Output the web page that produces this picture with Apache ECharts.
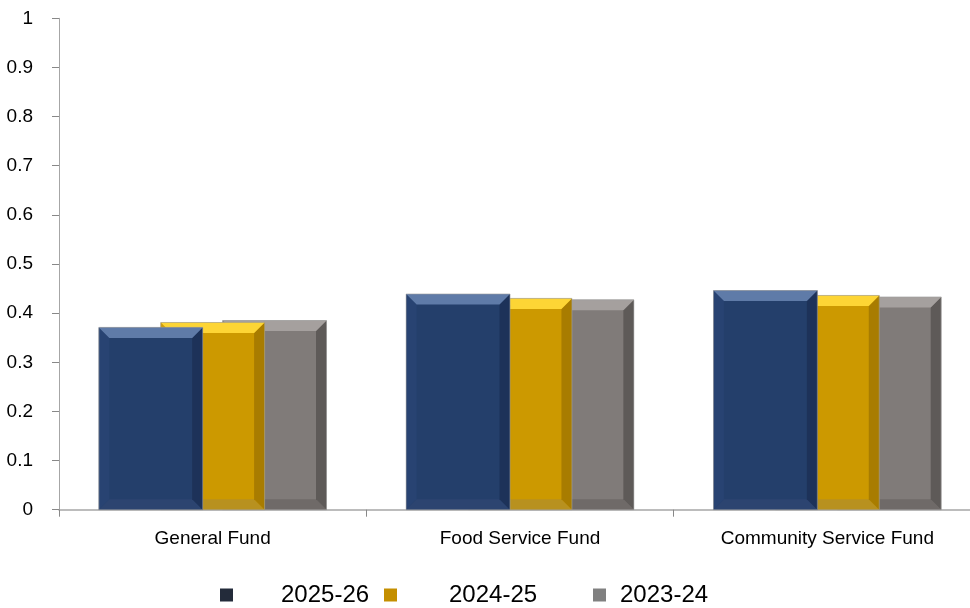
<!DOCTYPE html>
<html>
<head>
<meta charset="utf-8">
<script src="https://cdn.jsdelivr.net/npm/echarts@6/dist/echarts.min.js"></script>
<style>
html,body{margin:0;padding:0;background:#fff;}
#chart{width:970px;height:608px;}
</style>
</head>
<body>
<div id="chart"></div>
<script>
const categories = ['General Fund', 'Food Service Fund', 'Community Service Fund'];
const seriesNames = ['2025-26', '2024-25', '2023-24'];
const values2025 = [0.371, 0.439, 0.446];
const values2024 = [0.381, 0.430, 0.436];
const values2023 = [0.385, 0.427, 0.433];
const yTicks = [0, 0.1, 0.2, 0.3, 0.4, 0.5, 0.6, 0.7, 0.8, 0.9, 1];

const FONT = "'Liberation Sans Narrow', 'Arial Narrow', 'Liberation Sans', Arial, sans-serif";

const palettes = [
  {legend: '#232b3a', main: '#243f6b', top: '#5f7ba8', right: '#1d3259', bottom: '#2c4470', left: '#284372'},
  {legend: '#c48f00', main: '#cc9900', top: '#fdd535', right: '#a87c00', bottom: '#b8911f', left: '#d09d08'},
  {legend: '#808080', main: '#807b79', top: '#a5a09e', right: '#5e5a58', bottom: '#6f6a68', left: '#847f7d'}
];
const allValues = [values2025, values2024, values2023];

function makeRender(s) {
  const p = palettes[s];
  return function (params, api) {
    const cat = api.value(0);
    const val = api.value(1);
    const band = api.size([1, 0])[0];
    const w = band * 0.338;
    const step = w * 0.596;
    const groupW = w + 2 * step;
    const center = api.coord([cat, 0])[0];
    const x0 = center - groupW / 2 + s * step;
    const top = api.coord([cat, val])[1];
    const bottom = api.coord([cat, 0])[1];
    const b = Math.min(10.5, (bottom - top) / 2);
    const x1 = x0 + w;
    return {
      type: 'group',
      children: [
        {type: 'rect', shape: {x: x0, y: top, width: w, height: bottom - top}, style: {fill: p.main}},
        {type: 'polygon', shape: {points: [[x0, top], [x0 + b, top + b], [x0 + b, bottom - b], [x0, bottom]]}, style: {fill: p.left}},
        {type: 'polygon', shape: {points: [[x0, bottom], [x1, bottom], [x1 - b, bottom - b], [x0 + b, bottom - b]]}, style: {fill: p.bottom}},
        {type: 'polygon', shape: {points: [[x1, top], [x1, bottom], [x1 - b, bottom - b], [x1 - b, top + b]]}, style: {fill: p.right}},
        {type: 'polygon', shape: {points: [[x0, top], [x1, top], [x1 - b, top + b], [x0 + b, top + b]]}, style: {fill: p.top}},
        {type: 'rect', shape: {x: x0, y: top, width: w, height: bottom - top}, style: {fill: 'none', stroke: 'rgba(160,160,160,0.6)', lineWidth: 1}}
      ]
    };
  };
}

const series = seriesNames.map(function (name, s) {
  return {
    name: name,
    type: 'custom',
    z: 10 - s,
    itemStyle: {color: palettes[s].legend},
    encode: {x: 0, y: 1},
    renderItem: makeRender(s),
    data: allValues[s].map(function (v, i) { return [i, v]; })
  };
});

function legendAt(name, left, pad) {
  return {
    data: [{name: name, icon: 'rect'}],
    left: left,
    top: 583,
    padding: 0,
    itemWidth: 13,
    itemHeight: 13,
    selectedMode: false,
    textStyle: {fontFamily: FONT, fontSize: 24, color: '#000', padding: [0, 0, 0, pad]}
  };
}

const chart = echarts.init(document.getElementById('chart'), null, {renderer: 'canvas'});
chart.setOption({
  animation: false,
  backgroundColor: '#fff',
  grid: {left: 59, top: 18.3, width: 922, height: 491.4, containLabel: false, outerBoundsMode: 'none'},
  legend: [
    legendAt(seriesNames[0], 220, 43),
    legendAt(seriesNames[1], 384, 47),
    legendAt(seriesNames[2], 593, 9)
  ],
  xAxis: {
    type: 'category',
    data: categories,
    boundaryGap: true,
    axisLine: {lineStyle: {color: '#a6a6a6', width: 1.5}},
    axisTick: {show: true, length: 7, alignWithLabel: false, lineStyle: {color: '#888'}},
    axisLabel: {fontFamily: FONT, fontSize: 19, color: '#000', margin: 20, interval: 0},
    splitLine: {show: false}
  },
  yAxis: {
    type: 'value',
    min: yTicks[0],
    max: yTicks[yTicks.length - 1],
    interval: 0.1,
    axisLine: {show: true, lineStyle: {color: '#a6a6a6', width: 1}},
    axisTick: {show: true, length: 7, lineStyle: {color: '#888'}},
    axisLabel: {fontFamily: FONT, fontSize: 19, color: '#000', margin: 26,
      formatter: function (v) { return String(Math.round(v * 10) / 10); }},
    splitLine: {show: false}
  },
  series: series
});
</script>
</body>
</html>
